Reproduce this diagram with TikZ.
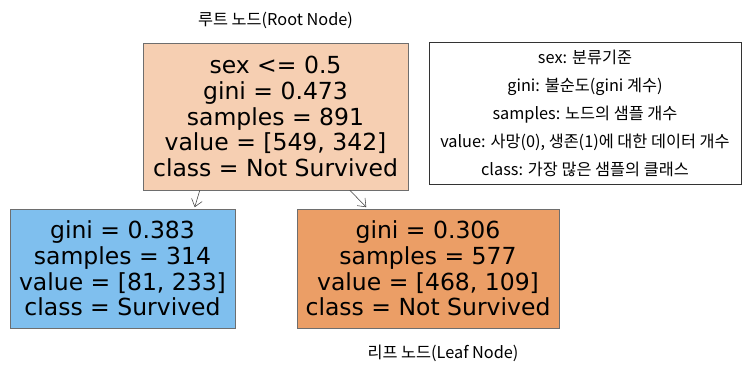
\documentclass[tikz,border=0pt]{standalone}
\usepackage{fontspec}
\setmainfont{DejaVu Sans}
\newfontfamily\kor{Noto Sans CJK KR}
\usepackage{xcolor}
\usepackage{tikz}
\usetikzlibrary{calc,positioning,arrows.meta}

\definecolor{rootfill}{HTML}{F6CFB2}
\definecolor{survfill}{HTML}{7FBFEE}
\definecolor{notsurvfill}{HTML}{EB9E66}
\definecolor{edgegray}{HTML}{6E6E6E}

\tikzset{
	treebox/.style={draw=edgegray,line width=0.7pt,rectangle,align=center,inner sep=0pt,
		font=\fontsize{23.5}{25.7}\selectfont},
	legendbox/.style={draw=black!80,line width=0.7pt,rectangle,align=center,inner sep=0pt,
		font=\kor\fontsize{16.3}{28}\selectfont},
	caption/.style={font=\kor\fontsize{16.3}{18}\selectfont},
	branch/.style={draw=black!75,line width=0.55pt,-{Straight Barb[length=7pt,width=11pt]}}
}

\begin{document}
\begin{tikzpicture}[x=1pt,y=-1pt]
	\useasboundingbox (0,0) rectangle (747,371);
	\node[treebox,fill=rootfill,minimum width=265pt,minimum height=147pt] (root) at (275.5,116.5)
		{sex <= 0.5\\gini = 0.473\\samples = 891\\value = [549, 342]\\class = Not Survived};
	\node[treebox,fill=survfill,minimum width=225pt,minimum height=119pt] (leafL) at (122.5,268.5)
		{gini = 0.383\\samples = 314\\value = [81, 233]\\class = Survived};
	\node[treebox,fill=notsurvfill,minimum width=262pt,minimum height=119pt] (leafR) at (428,268.5)
		{gini = 0.306\\samples = 577\\value = [468, 109]\\class = Not Survived};
	\node[legendbox,minimum width=312pt,minimum height=142pt] (legend) at (585,113)
		{sex: 분류기준\\gini: 불순도(gini 계수)\\samples: 노드의 샘플 개수\\value: 사망(0), 생존(1)에 대한 데이터 개수\\class: 가장 많은 샘플의 클래스};
	\node[caption] (rootlbl) at (275.5,20) {루트 노드(Root Node)};
	\node[caption] (leaflbl) at (443,353) {리프 노드(Leaf Node)};
	% branches
	\coordinate (rL) at ($(root.south west)!0.215!(root.south east)$);
	\coordinate (rR) at ($(root.south west)!0.78!(root.south east)$);
	\coordinate (tL) at ($(leafL.north west)!0.82!(leafL.north east)$);
	\coordinate (tR) at ($(leafR.north west)!0.265!(leafR.north east)$);
	\draw[branch] (rL) -- ($(tL)+(0,-1.5)$);
	\draw[branch] (rR) -- ($(tR)+(0,-1.5)$);
\end{tikzpicture}
\end{document}
